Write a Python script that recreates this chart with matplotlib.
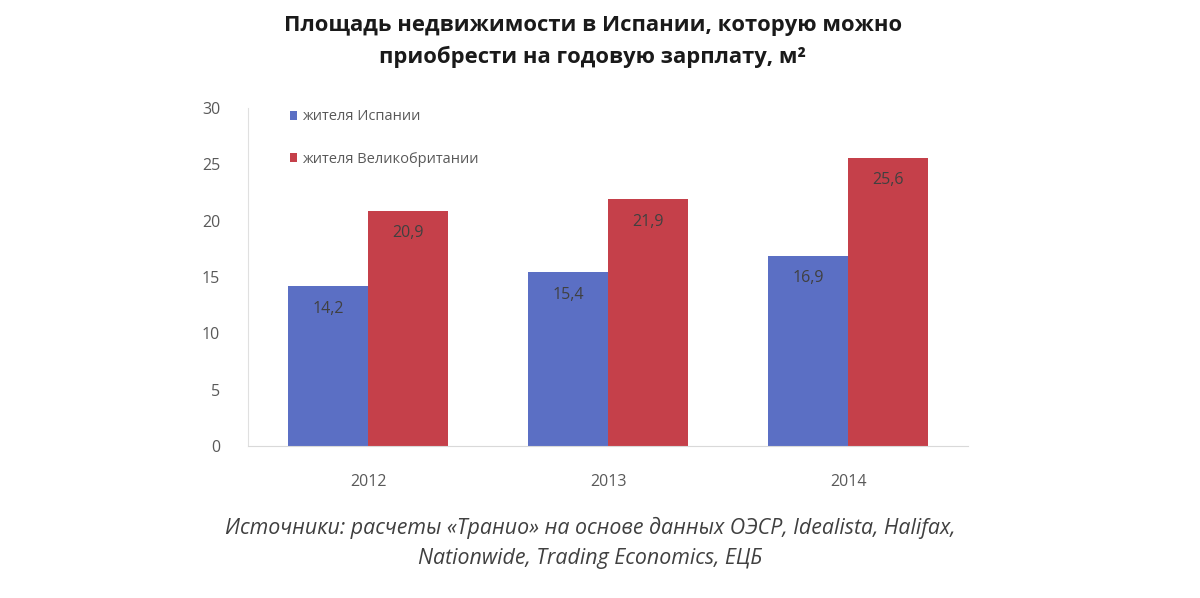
import matplotlib.pyplot as plt
import numpy as np

# данные
years = ['2012', '2013', '2014']
spain = [14.2, 15.4, 16.9]
uk = [20.9, 21.9, 25.6]
series_names = ['жителя Испании', 'жителя Великобритании']

plt.rcParams['font.family'] = ['Open Sans', 'DejaVu Sans']

fig = plt.figure(figsize=(12, 5.98), dpi=100)
ax = fig.add_axes([0.2067, 0.2542, 0.6, 0.5652])

x = np.arange(len(years))
w = 1 / 3
blue = '#5b6fc4'
red = '#c5404a'
b1 = ax.bar(x - w / 2, spain, w, color=blue, label=series_names[0])
b2 = ax.bar(x + w / 2, uk, w, color=red, label=series_names[1])

# подписи значений внутри столбцов
for bars, vals in [(b1, spain), (b2, uk)]:
    for rect, v in zip(bars, vals):
        ax.text(rect.get_x() + rect.get_width() / 2, v - 2.0,
                f'{v:.1f}'.replace('.', ','), ha='center', va='center',
                fontsize=11.5, color='#404040')

ax.set_xlim(-0.5, 2.5)
ax.set_ylim(0, 30)
ax.set_yticks(range(0, 31, 5))
ax.set_xticks(x)
ax.set_xticklabels(years)
ax.tick_params(axis='both', length=0, labelsize=11.5, colors='#595959')
ax.tick_params(axis='y', pad=20)
ax.tick_params(axis='x', pad=20)

for s in ['top', 'right']:
    ax.spines[s].set_visible(False)
ax.spines['left'].set_color('#e0e0e0')
ax.spines['bottom'].set_color('#d9d9d9')

leg = ax.legend(loc='upper left', bbox_to_anchor=(0.04, 1.035), frameon=False,
                fontsize=10.5, handlelength=0.5, handleheight=0.6,
                handletextpad=0.3, labelspacing=1.9, labelcolor='#595959')

fig.text(0.494, 0.958, 'Площадь недвижимости в Испании, которую можно',
         ha='center', va='center', fontsize=15.8, fontweight='bold', color='#1a1a1a')
fig.text(0.494, 0.904, 'приобрести на годовую зарплату, м²',
         ha='center', va='center', fontsize=15.8, fontweight='bold', color='#1a1a1a')

fig.text(0.492, 0.118, 'Источники: расчеты «Транио» на основе данных ОЭСР, Idealista, Halifax,',
         ha='center', va='center', fontsize=15.4, style='italic', color='#404040')
fig.text(0.492, 0.066, 'Nationwide, Trading Economics, ЕЦБ',
         ha='center', va='center', fontsize=15.4, style='italic', color='#404040')

fig.savefig('out.png', dpi=100)
